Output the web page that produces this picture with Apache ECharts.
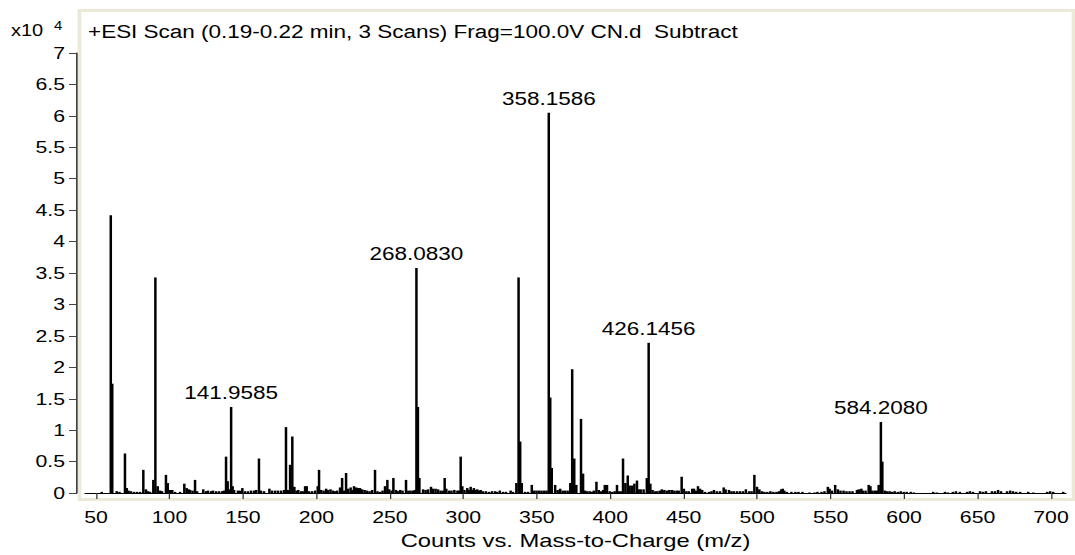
<!DOCTYPE html>
<html>
<head>
<meta charset="utf-8">
<script src="https://cdn.jsdelivr.net/npm/echarts@6.0.0/dist/echarts.min.js"></script>
<style>
html,body{margin:0;padding:0;background:#fff;overflow:hidden}
#wrap{width:1075px;height:555px;overflow:hidden;position:relative}
#chart{width:860px;height:555px;transform:scaleX(1.25);transform-origin:0 0}
</style>
</head>
<body>
<div id="wrap"><div id="chart"></div></div>
<script>
// Spectrum peaks: [m/z, counts in units of 10^4]
const peaks50to210 = [
[53.9,0.02],[60.05,4.42],[61.05,1.74],[64.1,0.03],[66.0,0.02],[69.7,0.63],[70.9,0.08],[72.1,0.04],[73.8,0.03],[75.9,0.02],[77.9,0.02],[80.0,0.02],[82.2,0.37],[84.0,0.06],[85.4,0.03],[86.8,0.02],[89.0,0.21],[90.4,3.43],[92.0,0.11],[93.6,0.04],[94.9,0.03],[97.6,0.29],[98.8,0.16],[100.4,0.05],[101.9,0.05],[103.8,0.02],[107.2,0.02],[110.1,0.15],[111.7,0.08],[113.0,0.06],[114.0,0.05],[115.7,0.04],[117.4,0.21],[118.8,0.03],[123.0,0.06],[124.9,0.03],[126.2,0.04],[128.3,0.03],[129.6,0.04],[131.7,0.03],[133.7,0.03],[135.8,0.03],[137.1,0.04],[138.5,0.58],[139.6,0.19],[140.9,0.06],[141.9585,1.37],[143.0,0.11],[144.0,0.05],[146.6,0.04],[148.0,0.04],[149.6,0.08],[151.4,0.03],[153.4,0.03],[155.5,0.04],[157.6,0.04],[159.0,0.05],[160.9,0.55],[162.3,0.04],[164.4,0.03],[168.0,0.07],[169.8,0.04],[171.9,0.04],[173.9,0.04],[176.0,0.04],[178.0,0.05],[179.3,1.05],[180.5,0.05],[182.1,0.45],[183.6,0.90],[185.0,0.10],[186.5,0.04],[187.7,0.05],[189.6,0.03],[190.9,0.03],[192.3,0.11],[193.4,0.11],[195.0,0.03],[197.0,0.03],[199.1,0.04],[200.9,0.11],[201.8,0.37],[203.2,0.05],[204.9,0.04],[206.6,0.07],[207.9,0.05],[209.6,0.06]
];
const peaks210to380 = [
[211.3,0.04],[212.7,0.03],[214.1,0.04],[216.1,0.09],[217.5,0.24],[218.9,0.04],[220.2,0.32],[221.6,0.07],[223.3,0.09],[224.6,0.05],[225.6,0.11],[227.0,0.09],[228.4,0.08],[229.7,0.08],[231.1,0.06],[232.8,0.05],[234.5,0.04],[236.2,0.03],[237.9,0.05],[239.9,0.37],[241.6,0.03],[243.3,0.02],[245.0,0.04],[246.7,0.11],[248.3,0.21],[249.6,0.06],[251.2,0.04],[252.4,0.24],[254.2,0.05],[255.6,0.03],[257.0,0.05],[258.6,0.04],[261.0,0.21],[262.6,0.04],[264.1,0.04],[265.8,0.04],[267.0,0.05],[268.0830,3.58],[269.09,1.37],[270.1,0.24],[272.6,0.06],[274.3,0.05],[276.0,0.06],[278.0,0.10],[279.4,0.07],[281.1,0.07],[282.8,0.06],[284.5,0.04],[286.0,0.04],[287.3,0.24],[288.4,0.07],[290.2,0.04],[291.9,0.04],[293.9,0.05],[296.0,0.04],[297.1,0.04],[298.2,0.58],[299.3,0.11],[300.8,0.05],[302.7,0.08],[303.8,0.05],[305.0,0.10],[306.2,0.05],[307.2,0.08],[308.6,0.05],[309.5,0.06],[310.7,0.04],[311.8,0.05],[313.4,0.03],[315.4,0.03],[317.5,0.02],[319.5,0.03],[321.6,0.03],[322.9,0.02],[324.8,0.04],[327.0,0.02],[329.0,0.02],[332.2,0.04],[333.8,0.02],[336.1,0.16],[337.6,3.43],[338.7,0.82],[339.8,0.16],[342.0,0.02],[344.0,0.02],[346.6,0.13],[348.1,0.04],[349.8,0.04],[351.5,0.04],[353.2,0.04],[355.0,0.04],[356.6,0.04],[358.1586,6.05],[359.16,1.52],[360.2,0.40],[362.5,0.13],[364.2,0.05],[365.9,0.07],[367.6,0.04],[369.3,0.04],[371.0,0.04],[372.8,0.16],[374.1,1.97],[375.5,0.55],[376.9,0.13]
];
const peaks380to540 = [
[380.1,1.18],[381.5,0.31],[382.9,0.04],[384.4,0.03],[386.1,0.03],[387.4,0.02],[388.8,0.04],[390.6,0.18],[392.2,0.05],[393.9,0.03],[395.2,0.05],[396.3,0.13],[397.8,0.13],[399.6,0.03],[401.3,0.02],[403.0,0.03],[404.6,0.13],[405.7,0.03],[407.1,0.03],[408.7,0.55],[410.3,0.16],[411.9,0.28],[413.2,0.12],[414.8,0.12],[416.4,0.15],[418.2,0.20],[419.3,0.06],[420.7,0.06],[422.7,0.06],[424.9,0.24],[426.1456,2.39],[427.3,0.15],[428.8,0.05],[430.6,0.03],[432.0,0.03],[433.7,0.04],[435.1,0.06],[436.8,0.05],[438.5,0.04],[440.2,0.05],[441.9,0.05],[443.6,0.04],[445.3,0.04],[446.6,0.04],[448.6,0.26],[450.1,0.07],[451.8,0.03],[453.5,0.03],[455.8,0.07],[457.0,0.07],[458.3,0.04],[459.7,0.11],[461.1,0.07],[462.6,0.05],[464.5,0.02],[467.2,0.02],[468.9,0.03],[470.6,0.05],[472.6,0.03],[474.7,0.03],[477.2,0.09],[478.5,0.06],[480.8,0.05],[482.5,0.03],[484.2,0.03],[486.3,0.03],[488.3,0.03],[490.3,0.03],[492.3,0.06],[494.5,0.03],[496.2,0.03],[498.1,0.29],[499.9,0.10],[501.5,0.06],[503.2,0.03],[504.9,0.02],[506.9,0.02],[509.0,0.03],[511.0,0.02],[513.1,0.02],[514.8,0.03],[516.3,0.06],[517.4,0.07],[518.5,0.04],[520.2,0.02],[523.3,0.02],[526.0,0.02],[528.1,0.02],[530.8,0.02],[535.6,0.01],[539.0,0.01]
];
const peaks540to710 = [
[541.0,0.02],[543.8,0.02],[545.8,0.03],[548.1,0.10],[549.3,0.07],[550.9,0.04],[553.1,0.13],[554.9,0.06],[556.7,0.04],[558.8,0.04],[560.8,0.03],[562.9,0.03],[564.9,0.03],[567.9,0.05],[569.2,0.06],[570.9,0.07],[572.0,0.04],[573.8,0.04],[575.9,0.13],[577.1,0.11],[578.4,0.04],[580.0,0.04],[581.4,0.04],[582.7,0.13],[584.2080,1.13],[585.2,0.50],[586.8,0.04],[588.5,0.03],[590.2,0.03],[591.9,0.02],[593.6,0.03],[595.7,0.02],[597.7,0.03],[599.8,0.02],[601.8,0.02],[604.5,0.02],[606.6,0.01],[619.8,0.02],[622.3,0.01],[627.8,0.02],[629.8,0.01],[633.2,0.02],[635.3,0.03],[638.0,0.02],[642.9,0.02],[644.8,0.03],[646.9,0.02],[651.7,0.03],[653.7,0.02],[655.7,0.03],[659.8,0.03],[661.9,0.03],[664.0,0.05],[666.0,0.03],[670.1,0.03],[672.2,0.04],[674.2,0.03],[676.3,0.02],[679.0,0.02],[684.5,0.02],[687.9,0.01],[697.4,0.02],[699.4,0.03],[701.5,0.02],[708.3,0.02]
];
const labeledPeaks = [141.9585, 268.0830, 358.1586, 426.1456, 584.2080];
const xTickValues = [50,100,150,200,250,300,350,400,450,500,550,600,650,700];
const titleText = '+ESI Scan (0.19-0.22 min, 3 Scans) Frag=100.0V CN.d  Subtract';
const xAxisTitle = 'Counts vs. Mass-to-Charge (m/z)';
const yScaleBase = 'x10';
const yScaleExp = '4';

const FONT = '"Liberation Sans", Arial, sans-serif';
const S = 1.25; // horizontal stretch of the original picture

const allPeaks = peaks50to210.concat(peaks210to380, peaks380to540, peaks540to710);
const barData = allPeaks.map(function (p) {
  const item = { value: [p[0], p[1]] };
  if (labeledPeaks.indexOf(p[0]) >= 0) {
    item.label = { show: true };
  }
  return item;
});

const chart = echarts.init(document.getElementById('chart'), null, { renderer: 'svg' });
chart.setOption({
  animation: false,
  backgroundColor: '#fff',
  title: {
    text: titleText,
    left: 88 / S,
    top: 23,
    padding: 0,
    textStyle: { fontFamily: FONT, fontSize: 18, fontWeight: 'normal', color: '#000' }
  },
  graphic: [
    { type: 'rect', z: 0, silent: true,
      shape: { x: 79.5 / S, y: 10.5, width: (1073.5 - 79.5) / S, height: 489 },
      style: { fill: 'none', stroke: '#ECE9D8', lineWidth: 3 } },
    { type: 'text', left: 11 / S, top: 23,
      style: { text: yScaleBase, font: '16px ' + FONT, fill: '#000' } },
    { type: 'text', left: 54 / S, top: 20,
      style: { text: yScaleExp, font: '12px ' + FONT, fill: '#000' } }
  ],
  grid: { left: 85 / S, right: (1075 - 1066) / S, top: 53, bottom: 59 },
  xAxis: {
    type: 'value',
    min: 42.5,
    max: 710.2,
    offset: 7,
    splitLine: { show: false },
    axisLine: { show: true, lineStyle: { color: '#000', width: 1 } },
    axisTick: { show: true, customValues: xTickValues, length: 6, lineStyle: { color: '#333' } },
    axisLabel: { customValues: xTickValues, margin: 9, fontFamily: FONT, fontSize: 17, color: '#000' },
    name: xAxisTitle,
    nameLocation: 'middle',
    nameGap: 28,
    nameTextStyle: { fontFamily: FONT, fontSize: 19, color: '#000', verticalAlign: 'top' }
  },
  yAxis: {
    type: 'value',
    min: 0,
    max: 7,
    interval: 0.5,
    offset: 8 / S,
    splitLine: { show: false },
    axisLine: { show: true, lineStyle: { color: '#000', width: 1 } },
    axisTick: { show: true, length: 8 / S, lineStyle: { color: '#444' } },
    axisLabel: { margin: 12 / S, fontFamily: FONT, fontSize: 17, color: '#000' }
  },
  series: [{
    type: 'bar',
    barWidth: 2,
    itemStyle: { color: '#000' },
    label: {
      show: false,
      position: 'top',
      distance: 5,
      fontFamily: FONT,
      fontSize: 18,
      color: '#000',
      formatter: function (p) { return p.value[0].toFixed(4); }
    },
    data: barData
  }]
});
</script>
</body>
</html>
